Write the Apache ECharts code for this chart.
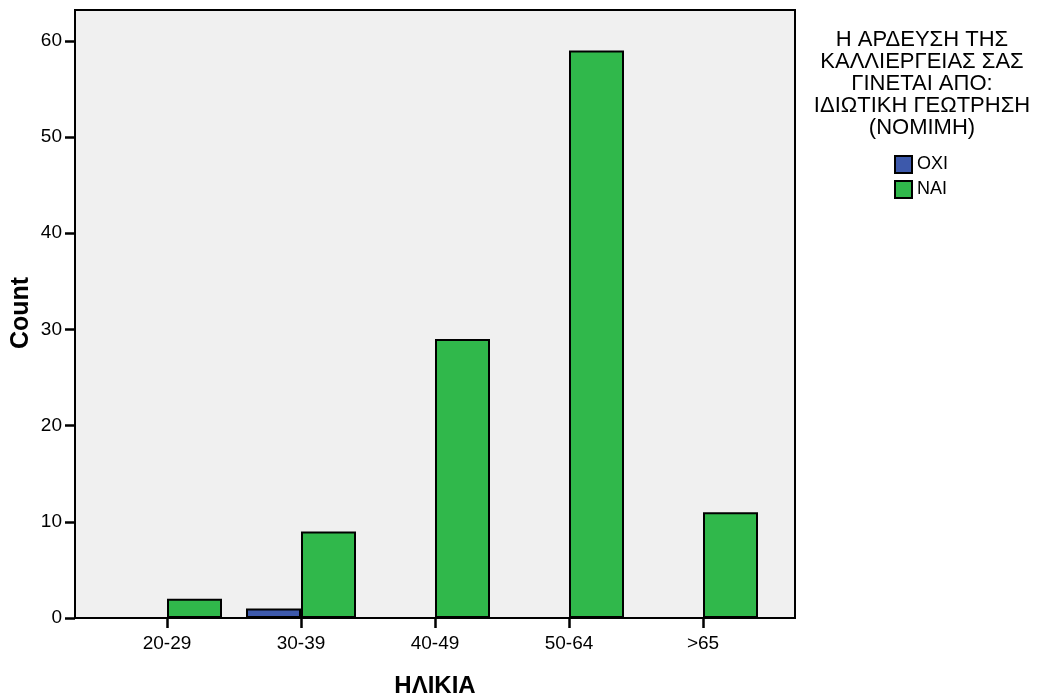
<!DOCTYPE html>
<html>
<head>
<meta charset="utf-8">
<script src="https://cdn.jsdelivr.net/npm/echarts@6/dist/echarts.min.js"></script>
<style>
html,body{margin:0;padding:0;background:#fff;}
#chart{width:1038px;height:698px;}
</style>
</head>
<body>
<div id="chart"></div>
<script>
var categories = ['20-29', '30-39', '40-49', '50-64', '>65'];
var seriesNames = ['ΟΧΙ', 'ΝΑΙ'];
var oxiValues = [0, 1, 0, 0, 0];
var naiValues = [2, 9, 29, 59, 11];
var yTicks = [0, 10, 20, 30, 40, 50, 60];
var xAxisTitle = 'ΗΛΙΚΙΑ';
var yAxisTitle = 'Count';
var legendTitleLines = ['Η ΑΡΔΕΥΣΗ ΤΗΣ', 'ΚΑΛΛΙΕΡΓΕΙΑΣ ΣΑΣ', 'ΓΙΝΕΤΑΙ ΑΠΟ:', 'ΙΔΙΩΤΙΚΗ ΓΕΩΤΡΗΣΗ', '(ΝΟΜΙΜΗ)'];

var FONT = '"Liberation Sans", Arial, sans-serif';
var chart = echarts.init(document.getElementById('chart'), null, {renderer: 'canvas'});
var yMax = 63.2;

var option = {
  animation: false,
  textStyle: {fontFamily: FONT},
  grid: [
    {left: 75, top: 10, width: 720, height: 608, show: true, backgroundColor: '#f0f0f0', borderColor: '#000', borderWidth: 2, containLabel: false, outerBoundsMode: 'none'},
    {left: 100, top: 10, width: 670, height: 608, show: false, containLabel: false, outerBoundsMode: 'none'}
  ],
  xAxis: [
    {type: 'value', gridIndex: 0, show: false, min: 0, max: 1},
    {
      type: 'category', gridIndex: 1, data: categories,
      axisLine: {show: false},
      axisTick: {show: true, alignWithLabel: true, length: 10, lineStyle: {color: '#000', width: 2.5}},
      axisLabel: {color: '#000', fontSize: 19, fontFamily: FONT, margin: 16},
      name: xAxisTitle, nameLocation: 'middle', nameGap: 56,
      nameTextStyle: {color: '#000', fontSize: 24, fontWeight: 'bold', fontFamily: FONT},
      splitLine: {show: false}
    }
  ],
  yAxis: [
    {
      type: 'value', gridIndex: 0, min: 0, max: yMax,
      axisLine: {show: false},
      axisTick: {show: true, length: 10, customValues: yTicks, lineStyle: {color: '#000', width: 2.5}},
      axisLabel: {color: '#000', fontSize: 19, fontFamily: FONT, margin: 13, customValues: yTicks},
      splitLine: {show: false}
    },
    {type: 'value', gridIndex: 1, min: 0, max: yMax, show: false, splitLine: {show: false}}
  ],
  legend: {
    orient: 'vertical', left: 894, top: 155, padding: 0,
    itemWidth: 17, itemHeight: 17, itemGap: 6,
    icon: 'rect',
    textStyle: {color: '#000', fontSize: 18, fontFamily: FONT},
    data: seriesNames
  },
  graphic: [{
    type: 'text', x: 922, y: 29,
    style: {
      text: legendTitleLines.join('\n'),
      fill: '#000', font: '22px ' + FONT,
      align: 'center', lineHeight: 22
    }
  }, {
    type: 'text', x: 21, y: 313, rotation: Math.PI / 2,
    style: {
      text: yAxisTitle, fill: '#000', font: 'bold 25px ' + FONT,
      align: 'center', verticalAlign: 'middle'
    }
  }],
  series: [
    {
      name: seriesNames[0], type: 'bar', xAxisIndex: 1, yAxisIndex: 1, data: oxiValues,
      barWidth: 55, barGap: '0%',
      itemStyle: {color: '#3d59ab', borderColor: '#000', borderWidth: 2}
    },
    {
      name: seriesNames[1], type: 'bar', xAxisIndex: 1, yAxisIndex: 1, data: naiValues,
      barWidth: 55, barGap: '0%',
      itemStyle: {color: '#30b84b', borderColor: '#000', borderWidth: 2}
    }
  ]
};
chart.setOption(option);
</script>
</body>
</html>
